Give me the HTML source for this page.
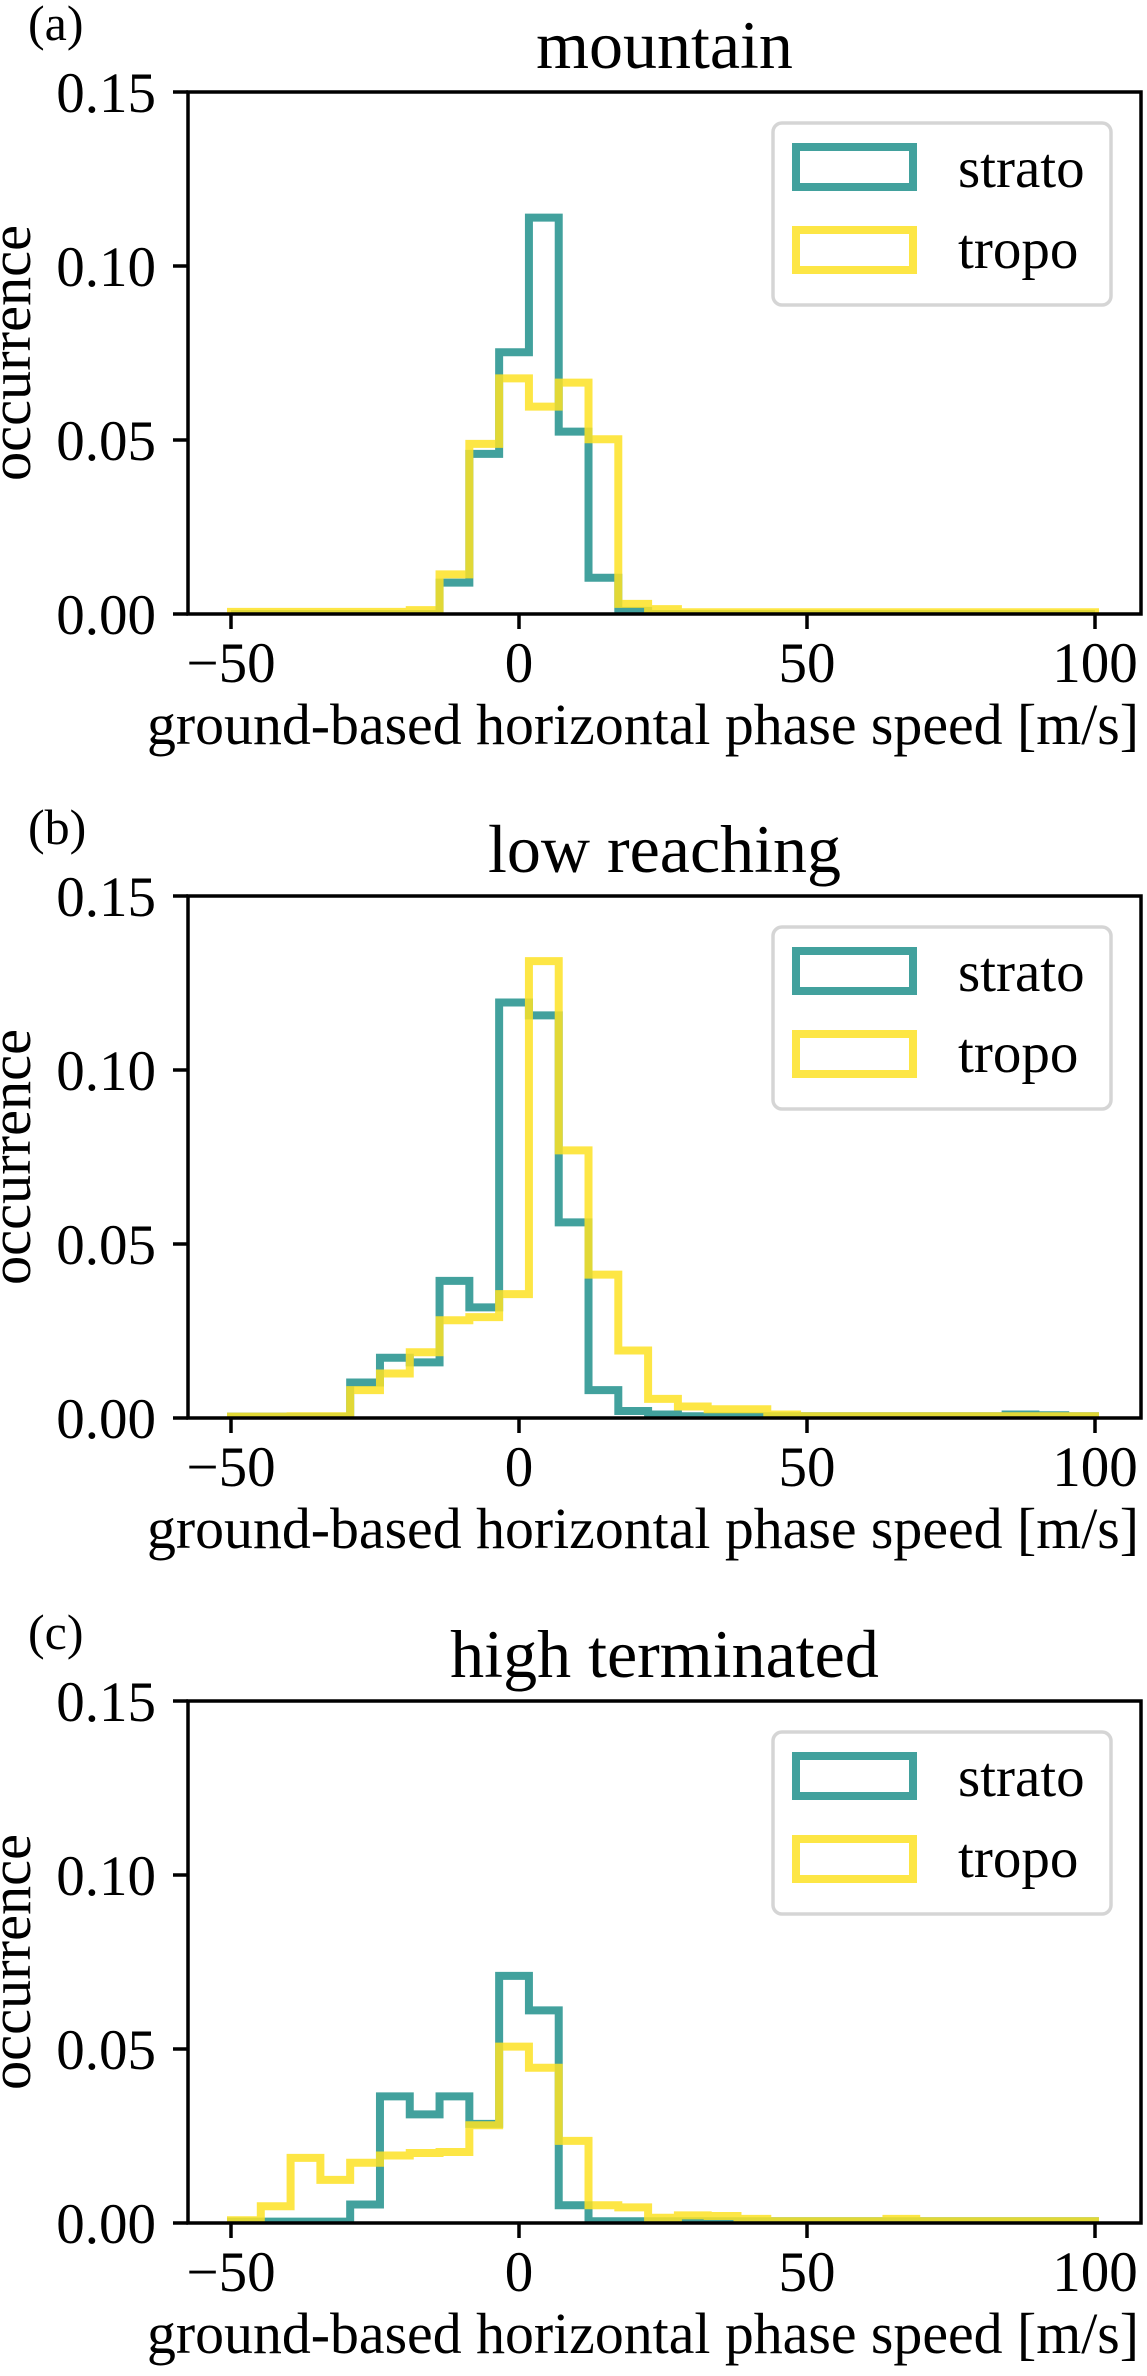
<!DOCTYPE html>
<html><head><meta charset="utf-8">
<style>
html,body{margin:0;padding:0;background:#fff;}
svg{display:block;}
text{font-family:"Liberation Serif","DejaVu Serif",serif;fill:#000;}
</style></head>
<body>
<svg id="fig" width="1147" height="2376" viewBox="0 0 1147 2376" xmlns="http://www.w3.org/2000/svg"></svg>
<script>
// ---- data ----
const binStart = -50;
const binEnd = 100;
const binCount = 29;
const panelTitles = ["mountain", "low reaching", "high terminated"];
const panelLetters = ["(a)", "(b)", "(c)"];
const xTicks = [-50, 0, 50, 100];
const xTickLabels = ["\u221250", "0", "50", "100"];
const yTicks = [0, 0.05, 0.10, 0.15];
const yTickLabels = ["0.00", "0.05", "0.10", "0.15"];
const seriesNames = ["strato", "tropo"];

const mountainStrato = [0,0,0,0,0,0,0,0.0090,0.046,0.0752,0.1139,0.0524,0.0104,0.0009,0,0,0,0,0,0,0,0,0,0,0,0,0,0,0];
const mountainTropo  = [0.0006,0.0006,0.0006,0.0006,0.0006,0.0006,0.0011,0.0114,0.0489,0.0677,0.0596,0.0665,0.0502,0.0029,0.0014,0.0005,0.0005,0.0005,0.0005,0.0005,0.0005,0.0005,0.0005,0.0005,0.0005,0.0005,0.0005,0.0005,0.0005];
const lowStrato = [0.0004,0.0004,0.0004,0.0004,0.0102,0.0173,0.016,0.0394,0.0318,0.1194,0.1157,0.0562,0.008,0.002,0.001,0.0005,0.0005,0.0005,0.0005,0.0005,0.0005,0.0005,0.0005,0.0005,0.0005,0.0005,0.001,0.0008,0.0005];
const lowTropo  = [0.0004,0.0004,0.0005,0.0005,0.008,0.0128,0.0189,0.0281,0.029,0.0356,0.1313,0.0769,0.0412,0.0194,0.0055,0.0033,0.0025,0.0025,0.001,0.0005,0.0005,0.0005,0.0005,0.0005,0.0005,0.0005,0.0005,0.0005,0.0005];
const highStrato = [0.0004,0.0004,0.0004,0.0004,0.0053,0.0364,0.0312,0.0364,0.0285,0.071,0.0611,0.0051,0.0005,0.0005,0.0005,0.0005,0.0005,0.0005,0.0005,0.0005,0.0005,0.0005,0.0005,0.0005,0.0005,0.0005,0.0005,0.0005,0.0005];
const highTropo  = [0.0008,0.0048,0.0187,0.0124,0.0173,0.0194,0.0201,0.0204,0.0281,0.0507,0.0446,0.0236,0.0051,0.0045,0.0015,0.0022,0.0020,0.0012,0.0005,0.0005,0.0005,0.0005,0.0012,0.0005,0.0005,0.0005,0.0005,0.0005,0.0005];

const panelStrato = [mountainStrato, lowStrato, highStrato];
const panelTropo = [mountainTropo, lowTropo, highTropo];

// ---- layout ----
const NS = "http://www.w3.org/2000/svg";
const svg = document.getElementById("fig");
const axLeft = 188, axRight = 1141;
const panelTops = [92, 896, 1701];
const axHeight = 522;
const xPx0 = 519, xPxPerUnit = 5.76;
const yMax = 0.15;
const colors = ["rgba(33,145,140,0.85)", "rgba(253,226,37,0.85)"];

function mk(tag, attrs, parent) {
  const e = document.createElementNS(NS, tag);
  for (const k in attrs) e.setAttribute(k, attrs[k]);
  (parent || svg).appendChild(e);
  return e;
}
function xScale(v) { return xPx0 + v * xPxPerUnit; }

const defs = mk("defs", {});

for (let p = 0; p < 3; p++) {
  const top = panelTops[p], bottom = top + axHeight;
  const yScale = v => bottom - v / yMax * axHeight;
  const g = mk("g", {});
  
  

  const cp = mk("clipPath", {id: "clip" + p}, defs);
  mk("rect", {x: axLeft, y: top, width: axRight - axLeft, height: axHeight}, cp);

  // panel letter
  const lt = mk("text", {x: 28, y: top - 52, "font-size": 50}, g);
  lt.textContent = panelLetters[p];
  
  

  // title
  const tt = mk("text", {x: (axLeft + axRight) / 2, y: top - 24, "font-size": 68, "text-anchor": "middle"}, g);
  tt.textContent = panelTitles[p];
  
  

  // histograms
  const series = [panelStrato[p], panelTropo[p]];
  const bw = (binEnd - binStart) / binCount;
  for (let s = 0; s < 2; s++) {
    const vals = series[s];
    let d = "M" + xScale(binStart) + "," + yScale(0);
    for (let i = 0; i < vals.length; i++) {
      const x0 = xScale(binStart + i * bw), x1 = xScale(binStart + (i + 1) * bw);
      d += " L" + x0 + "," + yScale(vals[i]) + " L" + x1 + "," + yScale(vals[i]);
    }
    d += " L" + xScale(binEnd) + "," + yScale(0);
    const path = mk("path", {d: d, fill: "none", stroke: colors[s], "stroke-width": 8, "stroke-linejoin": "miter", "clip-path": "url(#clip" + p + ")"}, g);
    
    
  }

  // frame
  const fr = mk("rect", {x: axLeft, y: top, width: axRight - axLeft, height: axHeight, fill: "none", stroke: "#000", "stroke-width": 3.5}, g);
  
  

  // x ticks
  for (let i = 0; i < xTicks.length; i++) {
    const x = xScale(xTicks[i]);
    const tk = mk("line", {x1: x, x2: x, y1: bottom, y2: bottom + 15, stroke: "#000", "stroke-width": 3.5}, g);
    
    
    const tl = mk("text", {x: x, y: bottom + 68, "font-size": 57, "text-anchor": "middle"}, g);
    tl.textContent = xTickLabels[i];
    
    
  }
  // y ticks
  for (let i = 0; i < yTicks.length; i++) {
    const y = yScale(yTicks[i]);
    const tk = mk("line", {x1: axLeft - 15, x2: axLeft, y1: y, y2: y, stroke: "#000", "stroke-width": 3.5}, g);
    
    
    const tl = mk("text", {x: 156, y: y + 20, "font-size": 57, "text-anchor": "end"}, g);
    tl.textContent = yTickLabels[i];
    
    
  }
  // axis titles
  const xt = mk("text", {x: 147, y: bottom + 130, "font-size": 58, textLength: 992, lengthAdjust: "spacingAndGlyphs"}, g);
  xt.textContent = "ground-based horizontal phase speed [m/s]";
  
  
  const cy = (top + bottom) / 2;
  const yt = mk("text", {x: 0, y: 0, "font-size": 58, "text-anchor": "middle", textLength: 256, lengthAdjust: "spacingAndGlyphs", transform: "translate(30," + cy + ") rotate(-90)"}, g);
  yt.textContent = "occurrence";
  
  

  // legend
  const lg = mk("g", {}, g);
  
  
  mk("rect", {x: 773, y: top + 31, width: 338, height: 182, rx: 9, fill: "#fff", stroke: "#d5d5d5", "stroke-width": 3.5}, lg);
  const patchY = [top + 55, top + 138];
  const textY = [top + 95, top + 176];
  for (let s = 0; s < 2; s++) {
    const pr = mk("rect", {x: 796, y: patchY[s], width: 117, height: 40, fill: "none", stroke: colors[s], "stroke-width": 8}, lg);
    
    
    const lt2 = mk("text", {x: 958, y: textY[s], "font-size": 57}, lg);
    lt2.textContent = seriesNames[s];
    
    
  }
}
</script>
</body></html>
